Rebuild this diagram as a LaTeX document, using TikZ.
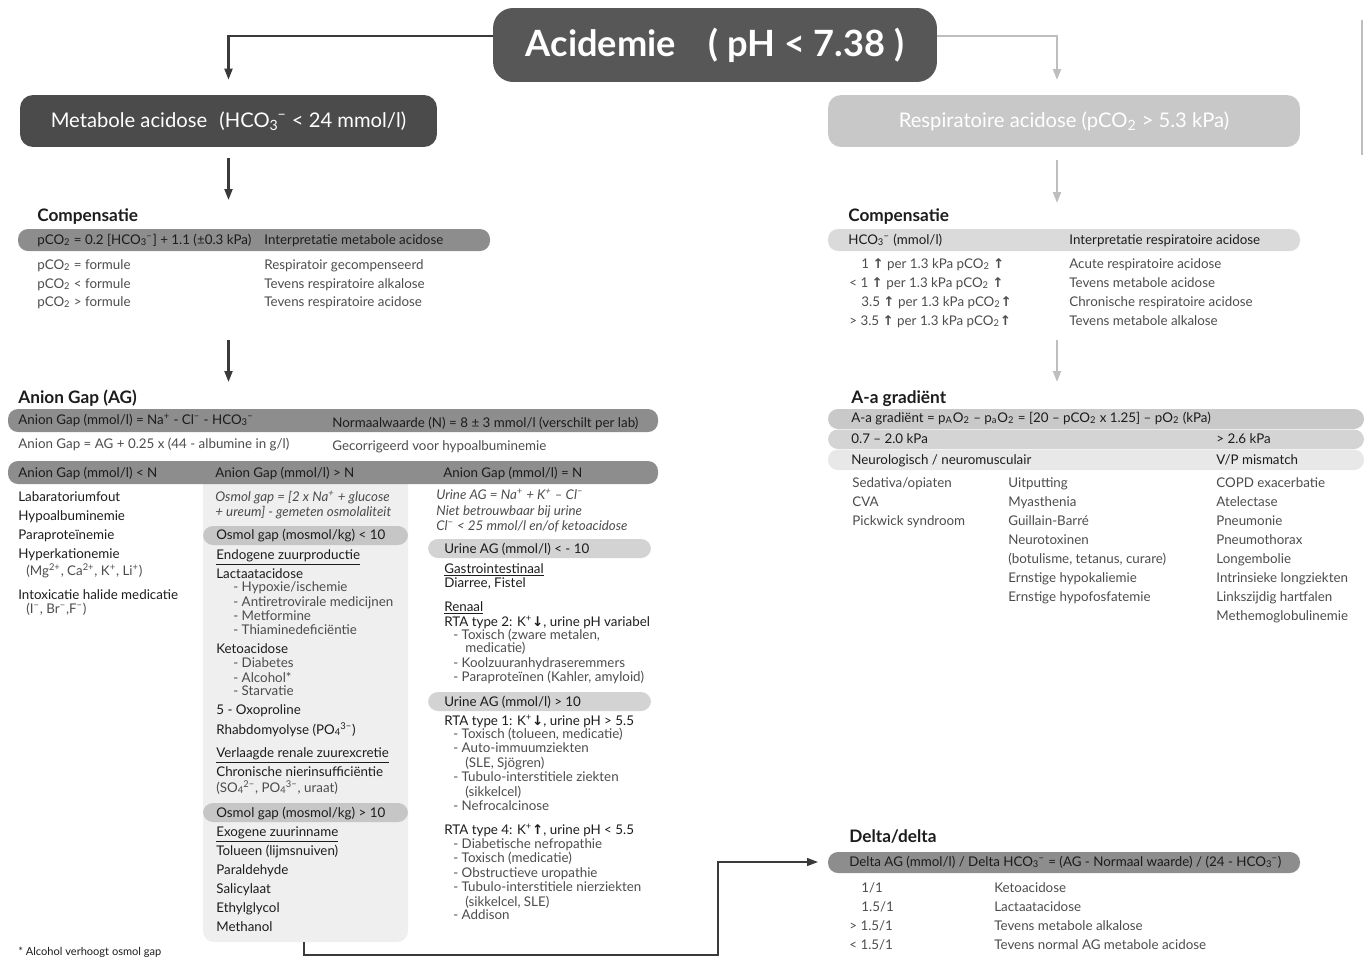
\documentclass[tikz,border=0pt]{standalone}
\usepackage{fontspec}
\setmainfont{Lato}
\newfontfamily\arrowfont{DejaVu Sans}
\usetikzlibrary{arrows.meta}

\definecolor{boxdark}{HTML}{575757}
\definecolor{boxmeta}{HTML}{4B4B4B}
\definecolor{boxlight}{HTML}{C8C8C8}
\definecolor{barmid}{HTML}{8D8D8D}
\definecolor{barpale}{HTML}{DADADA}
\definecolor{barosm}{HTML}{C6C6C6}
\definecolor{barurine}{HTML}{D3D3D3}
\definecolor{aaone}{HTML}{C9C9C9}
\definecolor{aatwo}{HTML}{D4D4D4}
\definecolor{aathree}{HTML}{E8E8E8}
\definecolor{panelbg}{HTML}{EFEFEF}
\definecolor{ink}{HTML}{1C1C1C}
\definecolor{soft}{HTML}{4C4C4C}
\definecolor{linedark}{HTML}{3A3A3A}
\definecolor{linelight}{HTML}{BEBEBE}

% subscript followed by superscript, e.g. HCO3-
\newcommand\ssx[2]{\textsubscript{#1}\kern-0.05em\textsuperscript{#2}}
\newcommand\mn{−}
\newcommand\arrup{{\arrowfont\bfseries\char"2191}}
\newcommand\arrdn{{\arrowfont\bfseries\char"2193}}

\tikzset{
  txt/.style={anchor=base west, inner sep=0pt, text=soft, font=\fontsize{7.6}{9}\selectfont},
  itemk/.style={txt, text=ink},
  ital/.style={txt, font=\fontsize{7.6}{9}\selectfont\itshape},
  bartext/.style={txt, text=ink},
  heading/.style={anchor=base west, inner sep=0pt, text=ink, font=\fontsize{9.8}{11}\selectfont\bfseries},
  fnote/.style={txt, text=ink, font=\fontsize{6.3}{7}\selectfont},
  bigbox/.style={inner sep=0pt, text=white, rounded corners=0.26cm},
  darkarrow/.style={draw=linedark, line width=1.2pt, -{Triangle[length=0.22cm,width=0.16cm]}},
  lightarrow/.style={darkarrow, draw=linelight},
  pill/.style={rounded corners=0.2cm},
}

\begin{document}
\begin{tikzpicture}[x=0.02cm, y=-0.02cm]
\useasboundingbox (0,0) rectangle (1365,957);

% ---------- top level ----------
\node[bigbox, fill=boxdark, rounded corners=0.4cm, minimum width=8.88cm, minimum height=1.48cm,
      font=\fontsize{20.6}{24}\selectfont\bfseries] (acid) at (715,45) {Acidemie\hspace{0.9em}( pH < 7.38 )};
\node[bigbox, fill=boxmeta, minimum width=8.34cm, minimum height=1.04cm,
      font=\fontsize{11.5}{13}\selectfont] (meta) at (228.5,121) {Metabole acidose\hspace{0.35em} (HCO\ssx{3}{\mn} < 24 mmol/l)};
\node[bigbox, fill=boxlight, minimum width=9.44cm, minimum height=1.04cm,
      font=\fontsize{11.5}{13}\selectfont] (resp) at (1064,121) {Respiratoire acidose (pCO\textsubscript{2} > 5.3 kPa)};

\coordinate (respin) at (1057,80);
\draw[darkarrow] ([yshift=0.18cm]acid.west) -| ([yshift=0.3cm]meta.north);
\draw[lightarrow] ([yshift=0.18cm]acid.east) -| (respin);
\draw[linelight, line width=0.8pt] (1362,20) -- (1362,155);

% down arrows
\coordinate (ma) at (228.5,158); \coordinate (mb) at (228.5,200);
\coordinate (mc) at (228.5,340); \coordinate (md) at (228.5,382);
\coordinate (ra) at (1057,160);  \coordinate (rb) at (1057,203);
\coordinate (rc) at (1057,340);  \coordinate (rd) at (1057,382);
\draw[darkarrow] (ma) -- (mb);
\draw[darkarrow] (mc) -- (md);
\draw[lightarrow] (ra) -- (rb);
\draw[lightarrow] (rc) -- (rd);

% ---------- metabolic compensation ----------
\node[heading] (compL) at (37,221) {Compensatie};
\fill[barmid, pill] (18,229) rectangle (490,251);
\node[bartext] (compLf) at (37,244) {pCO\textsubscript{2} = 0.2 [HCO\ssx{3}{\mn}] + 1.1 (±0.3 kPa)};
\node[bartext] (compLi) at (264,244) {Interpretatie metabole acidose};
\node[txt] (cl1) at (37,269) {pCO\textsubscript{2} = formule};
\node[txt] (cl2) at (37,288) {pCO\textsubscript{2} < formule};
\node[txt] (cl3) at (37,306) {pCO\textsubscript{2} > formule};
\node[txt] (cr1) at (264,269) {Respiratoir gecompenseerd};
\node[txt] (cr2) at (264,288) {Tevens respiratoire alkalose};
\node[txt] (cr3) at (264,306) {Tevens respiratoire acidose};

% ---------- respiratory compensation ----------
\node[heading] (compR) at (848,221) {Compensatie};
\fill[barpale, pill] (828,229) rectangle (1300,251);
\node[bartext] (compRh) at (848,244) {HCO\ssx{3}{\mn} (mmol/l)};
\node[bartext] (compRi) at (1069,244) {Interpretatie respiratoire acidose};
\node[txt] (rl1) at (861,268) {1 \arrup{} per 1.3 kPa pCO\textsubscript{2} \arrup};
\node[txt] (rl2) at (849,287) {< 1 \arrup{} per 1.3 kPa pCO\textsubscript{2} \arrup};
\node[txt] (rl3) at (861,306) {3.5 \arrup{} per 1.3 kPa pCO\textsubscript{2}\arrup};
\node[txt] (rl4) at (849,325) {> 3.5 \arrup{} per 1.3 kPa pCO\textsubscript{2}\arrup};
\node[txt] (rr1) at (1069,268) {Acute respiratoire acidose};
\node[txt] (rr2) at (1069,287) {Tevens metabole acidose};
\node[txt] (rr3) at (1069,306) {Chronische respiratoire acidose};
\node[txt] (rr4) at (1069,325) {Tevens metabole alkalose};

% ---------- anion gap ----------
\node[heading] (agh) at (18,403) {Anion Gap (AG)};
\fill[barmid, pill] (8,409) rectangle (658,432);
\node[bartext] (ag1) at (18,424) {Anion Gap (mmol/l) = Na\textsuperscript{+} - Cl\textsuperscript{\mn} - HCO\ssx{3}{\mn}};
\node[bartext] (ag2) at (332,427) {Normaalwaarde (N) = 8 ± 3 mmol/l (verschilt per lab)};
\node[txt] (ag3) at (18,448) {Anion Gap = AG + 0.25 x (44 - albumine in g/l)};
\node[txt] (ag4) at (332,450) {Gecorrigeerd voor hypoalbuminemie};

% panel behind the middle column
\fill[panelbg, rounded corners=0.22cm] (203,470) rectangle (408,942);
\fill[barmid, pill] (8,461) rectangle (658,484);
\node[bartext] (agl) at (18,477) {Anion Gap (mmol/l) < N};
\node[bartext] (agm) at (215,477) {Anion Gap (mmol/l) > N};
\node[bartext] (agr) at (443,477) {Anion Gap (mmol/l) = N};

% AG < N
\node[itemk] (l1) at (18,501) {Labaratoriumfout};
\node[itemk] (l2) at (18,520) {Hypoalbuminemie};
\node[itemk] (l3) at (18,539) {Paraproteïnemie};
\node[itemk] (l4) at (18,558) {Hyperkationemie};
\node[txt]   (l5) at (26,575) {(Mg\textsuperscript{2+}, Ca\textsuperscript{2+}, K\textsuperscript{+}, Li\textsuperscript{+})};
\node[itemk] (l6) at (18,599) {Intoxicatie halide medicatie};
\node[txt]   (l7) at (26,613) {(I\textsuperscript{\mn}, Br\textsuperscript{\mn},F\textsuperscript{\mn})};

% AG > N
\node[ital] (m1) at (215,501) {Osmol gap = [2 x Na\textsuperscript{+} + glucose};
\node[ital] (m2) at (215,516) {+ ureum] - gemeten osmolaliteit};
\fill[barosm, pill] (203,526) rectangle (408,545);
\node[bartext] (m3) at (216,539) {Osmol gap (mosmol/kg) < 10};
\node[itemk] (m4) at (216,559) {\underline{Endogene zuurproductie}};
\node[itemk] (m5) at (216,578) {Lactaatacidose};
\node[txt] (m6) at (233,591) {- Hypoxie/ischemie};
\node[txt] (m7) at (233,606) {- Antiretrovirale medicijnen};
\node[txt] (m8) at (233,620) {- Metformine};
\node[txt] (m9) at (233,634) {- Thiaminedeficiëntie};
\node[itemk] (m10) at (216,653) {Ketoacidose};
\node[txt] (m11) at (233,667) {- Diabetes};
\node[txt] (m12) at (233,682) {- Alcohol*};
\node[txt] (m13) at (233,695) {- Starvatie};
\node[itemk] (m14) at (216,714) {5 - Oxoproline};
\node[itemk] (m15) at (216,734) {Rhabdomyolyse (PO\ssx{4}{3\mn})};
\node[itemk] (m16) at (216,757) {\underline{Verlaagde renale zuurexcretie}};
\node[itemk] (m17) at (216,776) {Chronische nierinsufficiëntie};
\node[txt] (m18) at (216,792) {(SO\ssx{4}{2\mn}, PO\ssx{4}{3\mn}, uraat)};
\fill[barosm, pill] (203,803) rectangle (408,822);
\node[bartext] (m19) at (216,817) {Osmol gap (mosmol/kg) > 10};
\node[itemk] (m20) at (216,836) {\underline{Exogene zuurinname}};
\node[itemk] (m21) at (216,855) {Tolueen (lijmsnuiven)};
\node[itemk] (m22) at (216,874) {Paraldehyde};
\node[itemk] (m23) at (216,893) {Salicylaat};
\node[itemk] (m24) at (216,912) {Ethylglycol};
\node[itemk] (m25) at (216,931) {Methanol};

% AG = N
\node[ital] (u1) at (436,499) {Urine AG = Na\textsuperscript{+} + K\textsuperscript{+} – Cl\textsuperscript{\mn}};
\node[ital] (u2) at (436,515) {Niet betrouwbaar bij urine};
\node[ital] (u3) at (436,530) {Cl\textsuperscript{\mn} < 25 mmol/l en/of ketoacidose};
\fill[barurine, pill] (428,539) rectangle (651,558);
\node[bartext] (u4) at (444,553) {Urine AG (mmol/l) < - 10};
\node[itemk] (u5) at (444,573) {\underline{Gastrointestinaal}};
\node[itemk] (u6) at (444,587) {Diarree, Fistel};
\node[itemk] (u7) at (444,611) {\underline{Renaal}};
\node[itemk] (u8) at (444,626) {RTA type 2: K\textsuperscript{+}\arrdn, urine pH variabel};
\node[txt] (u9) at (453,639) {- Toxisch (zware metalen,};
\node[txt] (u10) at (465,652) {medicatie)};
\node[txt] (u11) at (453,667) {- Koolzuuranhydraseremmers};
\node[txt] (u12) at (453,681) {- Paraproteïnen (Kahler, amyloid)};
\fill[barurine, pill] (428,692) rectangle (651,711);
\node[bartext] (u13) at (444,706) {Urine AG (mmol/l) > 10};
\node[itemk] (u14) at (444,725) {RTA type 1: K\textsuperscript{+}\arrdn, urine pH > 5.5};
\node[txt] (u15) at (453,738) {- Toxisch (tolueen, medicatie)};
\node[txt] (u16) at (453,752) {- Auto-immuumziekten};
\node[txt] (u17) at (465,767) {(SLE, Sjögren)};
\node[txt] (u18) at (453,781) {- Tubulo-interstitiele ziekten};
\node[txt] (u19) at (465,796) {(sikkelcel)};
\node[txt] (u20) at (453,810) {- Nefrocalcinose};
\node[itemk] (u21) at (444,834) {RTA type 4: K\textsuperscript{+}\arrup, urine pH < 5.5};
\node[txt] (u22) at (453,848) {- Diabetische nefropathie};
\node[txt] (u23) at (453,862) {- Toxisch (medicatie)};
\node[txt] (u24) at (453,877) {- Obstructieve uropathie};
\node[txt] (u25) at (453,891) {- Tubulo-interstitiele nierziekten};
\node[txt] (u26) at (465,906) {(sikkelcel, SLE)};
\node[txt] (u27) at (453,919) {- Addison};

\node[fnote] (fn) at (18,955) {* Alcohol verhoogt osmol gap};

% ---------- A-a gradient ----------
\node[heading] (aah) at (851,403) {A-a gradiënt};
\fill[aaone, pill] (828,409) rectangle (1364,429);
\fill[aatwo, pill] (828,429.5) rectangle (1364,449);
\fill[aathree, pill] (828,449.5) rectangle (1364,470);
\node[bartext] (aa1) at (851,422) {A-a gradiënt = p\textsubscript{A}O\textsubscript{2} – p\textsubscript{a}O\textsubscript{2} = [20 – pCO\textsubscript{2} x 1.25] – pO\textsubscript{2} (kPa)};
\node[bartext] (aa2) at (851,443) {0.7 – 2.0 kPa};
\node[bartext] (aa3) at (1216,443) {> 2.6 kPa};
\node[bartext] (aa4) at (851,464) {Neurologisch / neuromusculair};
\node[bartext] (aa5) at (1216,464) {V/P mismatch};

\node[txt] (a11) at (852,487) {Sedativa/opiaten};
\node[txt] (a12) at (852,506) {CVA};
\node[txt] (a13) at (852,525) {Pickwick syndroom};

\node[txt] (a21) at (1008,487) {Uitputting};
\node[txt] (a22) at (1008,506) {Myasthenia};
\node[txt] (a23) at (1008,525) {Guillain-Barré};
\node[txt] (a24) at (1008,544) {Neurotoxinen};
\node[txt] (a25) at (1008,563) {(botulisme, tetanus, curare)};
\node[txt] (a26) at (1008,582) {Ernstige hypokaliemie};
\node[txt] (a27) at (1008,601) {Ernstige hypofosfatemie};

\node[txt] (a31) at (1216,487) {COPD exacerbatie};
\node[txt] (a32) at (1216,506) {Atelectase};
\node[txt] (a33) at (1216,525) {Pneumonie};
\node[txt] (a34) at (1216,544) {Pneumothorax};
\node[txt] (a35) at (1216,563) {Longembolie};
\node[txt] (a36) at (1216,582) {Intrinsieke longziekten};
\node[txt] (a37) at (1216,601) {Linkszijdig hartfalen};
\node[txt] (a38) at (1216,620) {Methemoglobulinemie};

% ---------- delta/delta ----------
\node[heading] (ddh) at (849,842) {Delta/delta};
\fill[barmid, pill] (828,852) rectangle (1300,873);
\node[bartext] (dd0) at (849,866) {Delta AG (mmol/l) / Delta HCO\ssx{3}{\mn} = (AG - Normaal waarde) / (24 - HCO\ssx{3}{\mn})};
\node[txt] (d1) at (861,892) {1/1};
\node[txt] (d2) at (861,911) {1.5/1};
\node[txt] (d3) at (849,930) {> 1.5/1};
\node[txt] (d4) at (849,949) {< 1.5/1};
\node[txt] (e1) at (994,892) {Ketoacidose};
\node[txt] (e2) at (994,911) {Lactaatacidose};
\node[txt] (e3) at (994,930) {Tevens metabole alkalose};
\node[txt] (e4) at (994,949) {Tevens normal AG metabole acidose};

% connector from the osmol panel to delta/delta
\coordinate (panelbot) at (304,942);
\coordinate (ddin) at (818,862);
\draw[darkarrow, line width=0.8pt] (panelbot) -- (304,955) -| (718,862) -- (ddin);
\end{tikzpicture}
\end{document}
